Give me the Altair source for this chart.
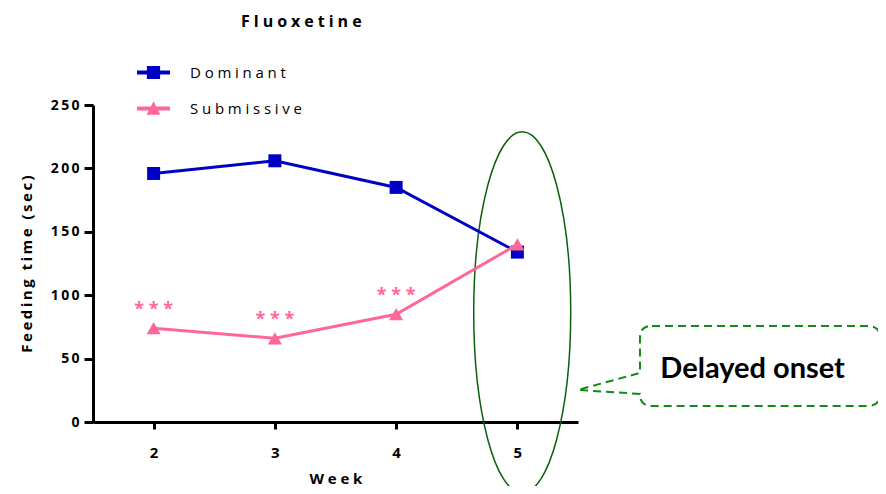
import altair as alt
import pandas as pd

# ---------------- data ----------------
weeks = [2, 3, 4, 5]
dominant = [196, 206, 185, 134]
submissive = [74, 66, 85, 140]
series_names = ["Dominant", "Submissive"]
significance = ["***", "***", "***", ""]
x_ticks = [2, 3, 4, 5]
y_ticks = [0, 50, 100, 150, 200, 250]
title_text = "Fluoxetine"
x_title = "Week"
y_title = "Feeding time (sec)"
callout_text = "Delayed onset"

# ---------------- styling ----------------
BLUE = "#0000C4"
PINK = "#FF6699"
ELLIPSE_GREEN = "#0B610B"
DASH_GREEN = "#138A13"
FONT = "Open Sans"
SP = "\u2005"  # letter spacing


def spaced(s, sep=SP):
    return sep.join(list(s))


def fmt(v):
    return round(v, 4)


# ellipse (rx/ry ratio) as custom symbol path, cubic bezier approximation
a = 48.5 / 180.5
k = 0.5523
ELLIPSE_PATH = (
    f"M 0 -1 C {fmt(k*a)} -1 {fmt(a)} {-k} {fmt(a)} 0 "
    f"C {fmt(a)} {k} {fmt(k*a)} 1 0 1 "
    f"C {fmt(-k*a)} 1 {fmt(-a)} {k} {fmt(-a)} 0 "
    f"C {fmt(-a)} {-k} {fmt(-k*a)} -1 0 -1 Z"
)
ELLIPSE_SIZE = (2 * 180.5) ** 2

# callout box with tail (pixel units relative to centre, normalised)
R = 151.0
L, Rr, T, B, r = -89.0, 151.0, -39.0, 41.0, 12.0
tip = (-151.0, 25.0)
up_y = 8.0
pts = lambda x, y: f"{fmt(x/R)} {fmt(y/R)}"
CALLOUT_PATH = (
    f"M {pts(L+r, T)} L {pts(Rr-r, T)} Q {pts(Rr, T)} {pts(Rr, T+r)} "
    f"L {pts(Rr, B-r)} Q {pts(Rr, B)} {pts(Rr-r, B)} "
    f"L {pts(L+r, B)} Q {pts(L, B)} {pts(L, B-r)} "
    f"L {pts(*tip)} L {pts(L, up_y)} L {pts(L, T+r)} Q {pts(L, T)} {pts(L+r, T)} Z"
)
CALLOUT_SIZE = (2 * R) ** 2

# legend symbols: line + marker
LEG_SQUARE = ("M -1 -0.12 L 1 -0.12 L 1 0.12 L -1 0.12 Z "
              "M -0.4 -0.4 L 0.4 -0.4 L 0.4 0.4 L -0.4 0.4 Z")
LEG_TRI = ("M -1 -0.12 L 1 -0.12 L 1 0.12 L -1 0.12 Z "
           "M 0 -0.44 L 0.42 0.38 L -0.42 0.38 Z")

df_dom = pd.DataFrame({"week": weeks, "value": dominant, "series": series_names[0]})
df_sub = pd.DataFrame({"week": weeks, "value": submissive, "series": series_names[1],
                       "sig": [spaced(s, " ") for s in significance]})


def x_enc():
    return alt.X("week:Q", scale=alt.Scale(domain=[1.5, 5.5], nice=False, zero=False),
                 axis=alt.Axis(values=x_ticks, title=spaced(x_title), tickSize=7,
                               labelFontSize=15, labelPadding=16, titlePadding=11, format="d"))


def y_enc():
    return alt.Y("value:Q", scale=alt.Scale(domain=[0, 250], nice=False),
                 axis=alt.Axis(values=y_ticks, title=spaced(y_title, "\u2009"), tickSize=9,
                               labelPadding=5, titlePadding=16,
                               labelExpr="join(split(datum.label, ''), '\u2009')"))


def legend(x, y, shape):
    return alt.Legend(title=None, orient="none", legendX=x, legendY=y, padding=0,
                      symbolType=shape, symbolSize=1089, symbolStrokeWidth=0,
                      labelFont=FONT, labelFontSize=15, labelFontWeight="normal",
                      labelColor="black", labelOffset=20,
                      labelExpr=f"join(split(datum.label, ''), '{SP}')")


dom_line = alt.Chart(df_dom).mark_line(color=BLUE, strokeWidth=3).encode(x=x_enc(), y=y_enc())
dom_pts = alt.Chart(df_dom).mark_point(shape="square", filled=True, size=169, opacity=1).encode(
    x=x_enc(), y=y_enc(),
    color=alt.Color("series:N", scale=alt.Scale(domain=[series_names[0]], range=[BLUE]),
                    legend=legend(44, -49, LEG_SQUARE)))
sub_line = alt.Chart(df_sub).mark_line(color=PINK, strokeWidth=3).encode(x=x_enc(), y=y_enc())
sub_pts = alt.Chart(df_sub).mark_point(shape="triangle-up", filled=True, size=200, opacity=1).encode(
    x=x_enc(), y=y_enc(),
    color=alt.Color("series:N", scale=alt.Scale(domain=[series_names[1]], range=[PINK]),
                    legend=legend(44, -13, LEG_TRI)))
stars = alt.Chart(df_sub).mark_text(font=FONT, fontSize=18, fontWeight="bold", color=PINK,
                                    baseline="middle", dy=-18).encode(
    x=x_enc(), y=y_enc(), text="sig:N")

ell_df = pd.DataFrame({"week": [5.04], "value": [86.5]})
ellipse = alt.Chart(ell_df).mark_point(shape=ELLIPSE_PATH, size=ELLIPSE_SIZE, filled=False,
                                       stroke=ELLIPSE_GREEN, strokeWidth=1.5, opacity=1).encode(
    x=x_enc(), y=y_enc())

call_df = pd.DataFrame({"week": [6.745], "value": [45.0]})
callout = alt.Chart(call_df).mark_point(shape=CALLOUT_PATH, size=CALLOUT_SIZE, filled=False,
                                        stroke=DASH_GREEN, strokeWidth=2, strokeDash=[8, 5],
                                        opacity=1).encode(x=x_enc(), y=y_enc())
ctext_df = pd.DataFrame({"week": [6.94], "value": [41.5], "label": [callout_text]})
ctext = alt.Chart(ctext_df).mark_text(font="Lato", fontSize=29, fontWeight="bold", color="black",
                                      baseline="middle", align="center").encode(
    x=x_enc(), y=y_enc(), text="label:N")

chart = alt.layer(
    ellipse, callout, ctext, dom_line, dom_pts, sub_line, sub_pts, stars
).resolve_scale(color="independent").properties(
    width=485, height=317,
    autosize=alt.AutoSizeParams(type="none"),
    padding={"left": 85, "top": 97, "right": 300, "bottom": 64},
    title=alt.TitleParams(spaced(title_text), anchor="start", frame="group", dx=148,
                          offset=26, font=FONT, fontSize=16, fontWeight="bold", color="black"),
).configure_axis(
    domainColor="black", domainWidth=3, tickColor="black", tickWidth=3, grid=False,
    labelFont=FONT, labelFontWeight="bold", labelFontSize=14, labelColor="black",
    titleFont=FONT, titleFontWeight="bold", titleFontSize=15, titleColor="black",
).configure_view(stroke=None)

chart.save("out.html", embed_options={"renderer": "svg", "actions": False})
